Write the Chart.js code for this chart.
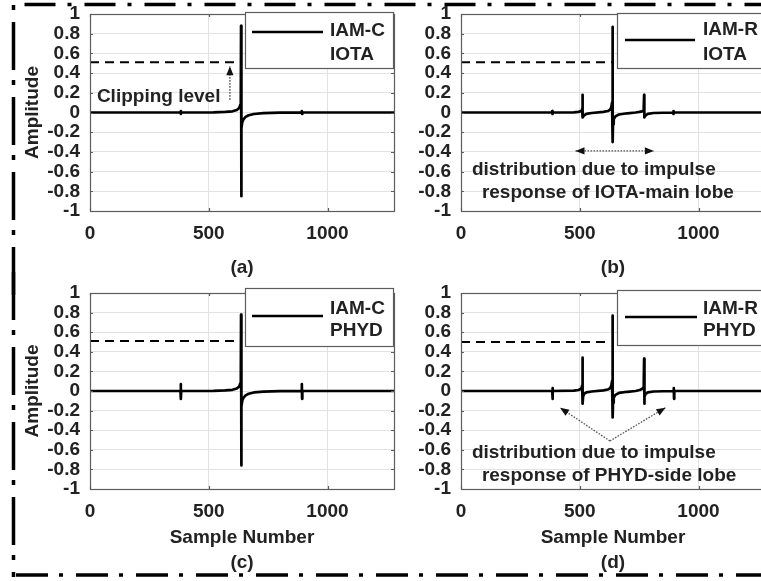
<!DOCTYPE html>
<html>
<head>
<meta charset="utf-8">
<script src="https://cdn.jsdelivr.net/npm/chart.js@4/dist/chart.umd.min.js"></script>
<style>
  html, body { margin: 0; padding: 0; background: #fff; overflow: hidden; }
  #fig { position: relative; width: 761px; height: 581px; overflow: hidden; background: #fff; }
  #frame { position: absolute; left: 0; top: 0; }
  .panel { position: absolute; }
  .panel canvas { display: block; }
</style>
</head>
<body>
<div id="fig">
  <svg id="frame" width="761" height="581">
    <g stroke="#000" stroke-width="3.5" fill="none">
      <line x1="13" y1="4.5" x2="800" y2="4.5" stroke-dasharray="31 12 4 13" stroke-dashoffset="48.5"/>
      <line x1="13.5" y1="4" x2="13.5" y2="295" stroke-dasharray="48 10 5 12" stroke-dashoffset="57"/>
      <line x1="13.5" y1="272" x2="13.5" y2="577" stroke-dasharray="48 10 5 12" stroke-dashoffset="0"/>
      <line x1="12" y1="575" x2="800" y2="575" stroke-dasharray="32 11 4 13" stroke-dashoffset="56"/>
    </g>
  </svg>
  <div class="panel" style="left:0px;top:0px"><canvas id="pa" width="400" height="300"></canvas></div>
  <div class="panel" style="left:371px;top:0px"><canvas id="pb" width="400" height="300"></canvas></div>
  <div class="panel" style="left:0px;top:279px"><canvas id="pc" width="400" height="302"></canvas></div>
  <div class="panel" style="left:371px;top:279px"><canvas id="pd" width="400" height="302"></canvas></div>
</div>
<script>
// ---- axis ticks and labels ----
const xTickValues = [0, 500, 1000];
const xTickLabels = ['0', '500', '1000'];
const yTickValues = [-1, -0.8, -0.6, -0.4, -0.2, 0, 0.2, 0.4, 0.6, 0.8, 1];
const yTickLabels = ['-1', '-0.8', '-0.6', '-0.4', '-0.2', '0', '0.2', '0.4', '0.6', '0.8', '1'];
const xLabel = 'Sample Number';
const yLabel = 'Amplitude';
const schemes = ['IAM-C', 'IAM-R'];
const filters = ['IOTA', 'PHYD'];
const panelTags = ['(a)', '(b)', '(c)', '(d)'];

// ---- clipping level (dashed) per panel, and where the dashed line stops ----
const clipLevels = [0.51, 0.51, 0.51, 0.5];
const clipEnds = [632, 638, 623, 621];

// ---- received samples: IAM-C with IOTA ----
const iamcIotaX = [0, 381, 382, 383, 384, 520, 570, 600, 618, 628, 633, 635, 636, 637, 638, 641, 646, 655, 668, 690, 730, 800, 891, 892, 893, 894, 1280];
const iamcIotaY = [0, 0, 0.015, -0.015, 0, 0.002, 0.006, 0.012, 0.025, 0.045, 0.08, 0.13, 0.88, -0.85, -0.16, -0.1, -0.07, -0.045, -0.028, -0.015, -0.007, -0.002, 0, 0.015, -0.015, 0, 0];

// ---- IAM-R with IOTA ----
const iamrIotaX = [0, 383, 384, 385, 386, 475, 495, 503, 508, 510, 511, 512, 513, 518, 528, 550, 600, 618, 628, 633, 636, 638, 639, 640, 643, 650, 665, 700, 735, 752, 762, 767, 769, 770, 771, 772, 777, 787, 810, 893, 894, 895, 896, 1280];
const iamrIotaY = [0, 0, 0.015, -0.015, 0, 0.002, 0.006, 0.012, 0.02, 0.035, 0.06, 0.18, -0.05, -0.03, -0.014, -0.005, 0.006, 0.015, 0.03, 0.055, 0.1, 0.87, -0.3, -0.12, -0.07, -0.04, -0.02, -0.008, 0, 0.006, 0.012, 0.02, 0.035, 0.06, 0.18, -0.05, -0.03, -0.014, -0.005, 0, 0.015, -0.015, 0, 0];

// ---- IAM-C with PHYD ----
const iamcPhydX = [0, 381, 382, 383, 384, 520, 570, 600, 618, 628, 633, 635, 636, 637, 638, 641, 646, 655, 668, 690, 730, 800, 891, 892, 893, 894, 1280];
const iamcPhydY = [0, 0, 0.07, -0.08, 0, 0.002, 0.006, 0.012, 0.025, 0.045, 0.08, 0.13, 0.78, -0.76, -0.16, -0.1, -0.07, -0.045, -0.028, -0.015, -0.007, -0.002, 0, 0.07, -0.08, 0, 0];

// ---- IAM-R with PHYD ----
const iamrPhydX = [0, 384, 385, 386, 387, 475, 495, 503, 508, 510, 511, 512, 513, 514, 518, 528, 550, 600, 618, 628, 633, 636, 638, 639, 640, 643, 650, 665, 700, 735, 752, 762, 767, 769, 770, 771, 772, 773, 777, 787, 810, 895, 896, 897, 898, 1280];
const iamrPhydY = [0, 0, 0.03, -0.08, 0, 0.003, 0.01, 0.02, 0.035, 0.055, 0.085, 0.34, -0.13, -0.06, -0.03, -0.014, -0.005, 0.006, 0.015, 0.03, 0.055, 0.1, 0.77, -0.27, -0.12, -0.07, -0.04, -0.02, -0.008, 0, 0.01, 0.02, 0.035, 0.055, 0.085, 0.33, -0.13, -0.06, -0.03, -0.014, -0.005, 0, 0.03, -0.08, 0, 0];

// ---- annotation texts ----
const noteClip = 'Clipping level';
const noteMain = ['distribution due to impulse', 'response of IOTA-main lobe'];
const noteSide = ['distribution due to impulse', 'response of PHYD-side lobe'];

const FONT = "'Liberation Sans', Arial, Helvetica, sans-serif";
const TXT = '#222';
const BOX = '#5c5c5c';

function points(xs, ys) { return xs.map((x, i) => ({ x: x, y: ys[i] })); }

function arrowHead(ctx, x1, y1, x2, y2) {
  const a = Math.atan2(y2 - y1, x2 - x1), len = 9, half = 3.6;
  ctx.beginPath();
  ctx.moveTo(x2, y2);
  ctx.lineTo(x2 - len * Math.cos(a) + half * Math.sin(a), y2 - len * Math.sin(a) - half * Math.cos(a));
  ctx.lineTo(x2 - len * Math.cos(a) - half * Math.sin(a), y2 - len * Math.sin(a) + half * Math.cos(a));
  ctx.closePath();
  ctx.fill();
}

// axes box, inner tick marks, notes and the boxed legend
const axesFrame = {
  id: 'axesFrame',
  afterDatasetsDraw(chart, args, o) {
    const { ctx, chartArea: ca, scales: { x, y } } = chart;
    ctx.save();
    // box
    ctx.strokeStyle = BOX;
    ctx.lineWidth = 1.2;
    ctx.strokeRect(Math.round(ca.left) + 0.5, Math.round(ca.top) + 0.5,
      Math.round(ca.right - ca.left), Math.round(ca.bottom - ca.top));
    // inner ticks
    ctx.beginPath();
    yTickValues.forEach(v => {
      const py = Math.round(y.getPixelForValue(v)) + 0.5;
      ctx.moveTo(ca.left, py); ctx.lineTo(ca.left + 3, py);
      ctx.moveTo(ca.right, py); ctx.lineTo(ca.right - 3, py);
    });
    xTickValues.forEach(v => {
      const px = Math.round(x.getPixelForValue(v)) + 0.5;
      ctx.moveTo(px, ca.bottom); ctx.lineTo(px, ca.bottom - 3);
      ctx.moveTo(px, ca.top); ctx.lineTo(px, ca.top + 3);
    });
    ctx.stroke();

    // notes
    ctx.fillStyle = TXT;
    ctx.font = 'bold 19px ' + FONT;
    ctx.textAlign = 'left';
    ctx.textBaseline = 'middle';
    (o.texts || []).forEach(t => ctx.fillText(t.text, x.getPixelForValue(t.x), y.getPixelForValue(t.y)));
    (o.arrows || []).forEach(ar => {
      const x1 = x.getPixelForValue(ar.from[0]), y1 = y.getPixelForValue(ar.from[1]);
      const x2 = x.getPixelForValue(ar.to[0]), y2 = y.getPixelForValue(ar.to[1]);
      ctx.save();
      ctx.strokeStyle = '#555';
      ctx.lineWidth = 1.3;
      ctx.setLineDash([1.6, 1.4]);
      ctx.beginPath(); ctx.moveTo(x1, y1); ctx.lineTo(x2, y2); ctx.stroke();
      ctx.restore();
      ctx.fillStyle = '#111';
      arrowHead(ctx, x1, y1, x2, y2);
      if (ar.both) arrowHead(ctx, x2, y2, x1, y1);
    });
    ctx.restore();
  },
  afterDraw(chart, args, o) {
    const L = o.legend;
    if (!L) return;
    const ctx = chart.ctx;
    ctx.save();
    ctx.fillStyle = '#fff';
    ctx.fillRect(L.box[0], L.box[1], L.box[2] - L.box[0], L.box[3] - L.box[1]);
    ctx.strokeStyle = BOX;
    ctx.lineWidth = 1.2;
    ctx.strokeRect(L.box[0] + 0.5, L.box[1] + 0.5, L.box[2] - L.box[0], L.box[3] - L.box[1]);
    ctx.strokeStyle = '#000';
    ctx.lineWidth = 2.7;
    ctx.beginPath(); ctx.moveTo(L.line[0], L.line[2]); ctx.lineTo(L.line[1], L.line[2]); ctx.stroke();
    ctx.fillStyle = TXT;
    ctx.font = 'bold 19px ' + FONT;
    ctx.textAlign = 'left';
    ctx.textBaseline = 'middle';
    L.text.forEach((t, i) => ctx.fillText(t, L.tx, L.ty[i]));
    ctx.restore();
  }
};

function makePanel(id, p) {
  const bottomRow = p.row === 1;
  const canvasH = bottomRow ? 302 : 300;
  const areaBottom = bottomRow ? 210 : 211;
  const font = { family: FONT, size: 19, weight: 'bold' };
  return new Chart(document.getElementById(id), {
    type: 'line',
    data: {
      datasets: [
        { label: p.legend.text.join(' '), data: points(p.xs, p.ys), borderColor: '#000', borderWidth: 2.7,
          borderJoinStyle: 'round', borderCapStyle: 'butt',
          pointRadius: 0, tension: 0, fill: false, order: 1 },
        { label: noteClip, data: [{ x: 0, y: p.clip }, { x: p.clipEnd, y: p.clip }], borderColor: '#000',
          borderWidth: 2, borderDash: [9, 6], pointRadius: 0, fill: false, order: 2 }
      ]
    },
    options: {
      responsive: false, animation: false, devicePixelRatio: 1,
      layout: { padding: { left: 0, top: 14, right: 6, bottom: 0 } },
      plugins: {
        legend: { display: false }, tooltip: { enabled: false },
        axesFrame: { legend: p.legend, texts: p.texts, arrows: p.arrows }
      },
      scales: {
        x: {
          type: 'linear', min: 0, max: 1280,
          afterBuildTicks: a => { a.ticks = xTickValues.map(v => ({ value: v })); },
          afterFit: a => { a.height = canvasH - areaBottom; a.paddingLeft = 0; a.paddingRight = 0; },
          grid: { color: '#e2e2e2', lineWidth: 1, drawTicks: false },
          border: { display: false },
          ticks: { callback: (v, i) => xTickLabels[i], font: font, color: TXT, padding: 11, maxRotation: 0, autoSkip: false },
          title: { display: true, text: bottomRow ? [xLabel, p.tag] : p.tag, color: TXT,
                   font: { family: FONT, size: 19, weight: 'bold', lineHeight: 25 / 19 },
                   padding: { top: 0, bottom: bottomRow ? 5.5 : 19.5 } }
        },
        y: {
          type: 'linear', min: -1, max: 1,
          afterBuildTicks: a => { a.ticks = yTickValues.map(v => ({ value: v })); },
          afterFit: a => { a.width = 90; a.paddingTop = 0; a.paddingBottom = 0; },
          grid: { color: '#e2e2e2', lineWidth: 1, drawTicks: false },
          border: { display: false },
          ticks: { callback: (v, i) => yTickLabels[i], font: font, color: TXT, padding: 10, autoSkip: false },
          title: { display: p.col === 0, text: yLabel, color: TXT, font: font, padding: { top: 21, bottom: 0 } }
        }
      }
    },
    plugins: [axesFrame]
  });
}

makePanel('pa', {
  row: 0, col: 0, tag: panelTags[0], xs: iamcIotaX, ys: iamcIotaY, clip: clipLevels[0], clipEnd: clipEnds[0],
  legend: { box: [245, 12, 393, 68], line: [252, 323, 32], text: [schemes[0], filters[0]], tx: 330, ty: [31, 55] },
  texts: [{ text: noteClip, x: 29, y: 0.16 }],
  arrows: [{ from: [589, 0.13], to: [589, 0.47] }]
});
makePanel('pb', {
  row: 0, col: 1, tag: panelTags[1], xs: iamrIotaX, ys: iamrIotaY, clip: clipLevels[1], clipEnd: clipEnds[1],
  legend: { box: [246, 13, 420, 68], line: [254, 324, 40], text: [schemes[1], filters[0]], tx: 332, ty: [30, 55] },
  texts: [{ text: noteMain[0], x: 46, y: -0.58 }, { text: noteMain[1], x: 88, y: -0.81 }],
  arrows: [{ from: [482, -0.39], to: [812, -0.39], both: true }]
});
makePanel('pc', {
  row: 1, col: 0, tag: panelTags[2], xs: iamcPhydX, ys: iamcPhydY, clip: clipLevels[2], clipEnd: clipEnds[2],
  legend: { box: [245, 9, 393, 67], line: [252, 323, 37], text: [schemes[0], filters[1]], tx: 330, ty: [30, 52] },
  texts: [], arrows: []
});
makePanel('pd', {
  row: 1, col: 1, tag: panelTags[3], xs: iamrPhydX, ys: iamrPhydY, clip: clipLevels[3], clipEnd: clipEnds[3],
  legend: { box: [246, 11, 420, 66], line: [254, 326, 38], text: [schemes[1], filters[1]], tx: 332, ty: [30, 52] },
  texts: [{ text: noteSide[0], x: 46, y: -0.63 }, { text: noteSide[1], x: 88, y: -0.86 }],
  arrows: [{ from: [627, -0.51], to: [417, -0.17] }, { from: [627, -0.51], to: [861, -0.17] }]
});
</script>
</body>
</html>
